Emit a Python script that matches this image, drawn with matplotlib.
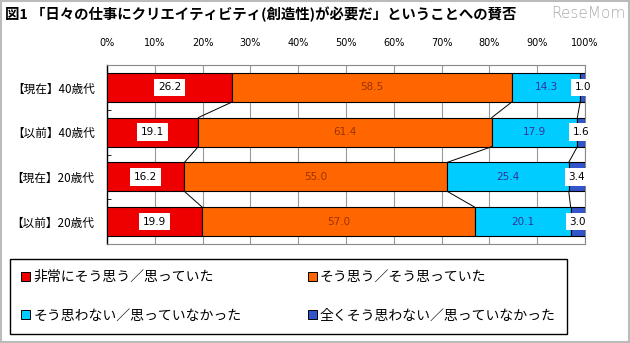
import numpy as np
import matplotlib.pyplot as plt
from matplotlib.patches import Patch, Rectangle

plt.rcParams['font.family'] = ['Noto Sans CJK JP', 'DejaVu Sans']

# data
groups = ['【現在】40歳代', '【以前】40歳代', '【現在】20歳代', '【以前】20歳代']
series = ['非常にそう思う／思っていた', 'そう思う／そう思っていた',
          'そう思わない／思っていなかった', '全くそう思わない／思っていなかった']
strongly_agree = [26.2, 19.1, 16.2, 19.9]
agree = [58.5, 61.4, 55.0, 57.0]
disagree = [14.3, 17.9, 25.4, 20.1]
strongly_disagree = [1.0, 1.6, 3.4, 3.0]
x_ticks = [0, 10, 20, 30, 40, 50, 60, 70, 80, 90, 100]

colors = ['#EE0000', '#FF6600', '#00CCFF', '#3355CC']
text_colors = ['black', '#993300', '#333399', 'black']
boxed = [True, False, False, True]


def main():
    fig = plt.figure(figsize=(6.3, 3.43), dpi=100)
    ax = fig.add_axes([107 / 630, 1 - 244 / 343, 478 / 630, 179 / 343])

    values = np.array([strongly_agree, agree, disagree, strongly_disagree])
    y = np.arange(len(groups))
    h = 0.65
    left = np.zeros(len(groups))
    for k in range(len(series)):
        ax.barh(y, values[k], left=left, height=h, color=colors[k],
                edgecolor='black', linewidth=0.8, zorder=3)
        for i in range(len(groups)):
            cx = left[i] + values[k][i] / 2
            bbox = None
            if boxed[k]:
                bbox = dict(boxstyle='square,pad=0.35', fc='white', ec='none')
            ax.text(cx, y[i], f'{values[k][i]:.1f}', ha='center', va='center',
                    fontsize=7.5, color=text_colors[k], bbox=bbox, zorder=5,
                    family='DejaVu Sans')
        left = left + values[k]

    # series lines between bars
    cum = np.cumsum(values, axis=0)
    for k in range(len(series) - 1):
        for i in range(len(groups) - 1):
            ax.plot([cum[k][i], cum[k][i + 1]], [y[i] + h / 2, y[i + 1] - h / 2],
                    color='black', linewidth=0.7, zorder=4)

    ax.set_xlim(0, 100)
    ax.set_ylim(3.5, -0.5)
    ax.set_xticks(x_ticks)
    ax.set_xticklabels([f'{t}%' for t in x_ticks], fontsize=7, family='DejaVu Sans')
    ax.xaxis.tick_top()
    ax.tick_params(axis='x', length=0, pad=12)
    ax.set_yticks(y)
    ax.set_yticklabels(groups, fontsize=8.4)
    ax.tick_params(axis='y', which='major', length=0, pad=9)
    ax.set_yticks([0.5, 1.5, 2.5], minor=True)
    ax.tick_params(axis='y', which='minor', direction='in', length=3, color='black')
    ax.grid(axis='x', color='#999999', linewidth=0.8, zorder=0)
    for s in ['top', 'right', 'bottom']:
        ax.spines[s].set_color('#888888')
        ax.spines[s].set_linewidth(0.8)
    ax.spines['left'].set_color('black')
    ax.spines['left'].set_linewidth(1.0)

    fig.text(5 / 630, 1 - 14 / 343, '図1 「日々の仕事にクリエイティビティ(創造性)が必要だ」ということへの賛否',
             fontsize=10.4, fontweight='bold', ha='left', va='center')
    fig.text(625 / 630, 1 - 14 / 343, 'ReseMom', fontsize=11, color='#aaaaaa',
             ha='right', va='center', family='DejaVu Sans', fontweight='light')

    # legend filled row by row like the original
    handles = [Patch(facecolor=c, edgecolor='black', linewidth=0.7) for c in colors]
    handles = [handles[0], handles[2], handles[1], handles[3]]
    labels = [series[0], series[2], series[1], series[3]]
    fig.legend(handles, labels, ncol=2, mode='expand',
               bbox_to_anchor=(10 / 630, 1 - 334 / 343, 557 / 630, 75 / 343),
               loc='upper left', fontsize=10, frameon=True, fancybox=False,
               edgecolor='black', framealpha=1, handlelength=0.65, handleheight=0.65,
               handletextpad=0.25, labelspacing=1.75, borderpad=0.8, borderaxespad=0)

    fig.patches.append(Rectangle((0.002, 0.003), 0.996, 0.994, transform=fig.transFigure,
                                 fill=False, edgecolor='#bbbbbb', linewidth=1.5))

    fig.savefig('out.png', dpi=100)


if __name__ == '__main__':
    main()
